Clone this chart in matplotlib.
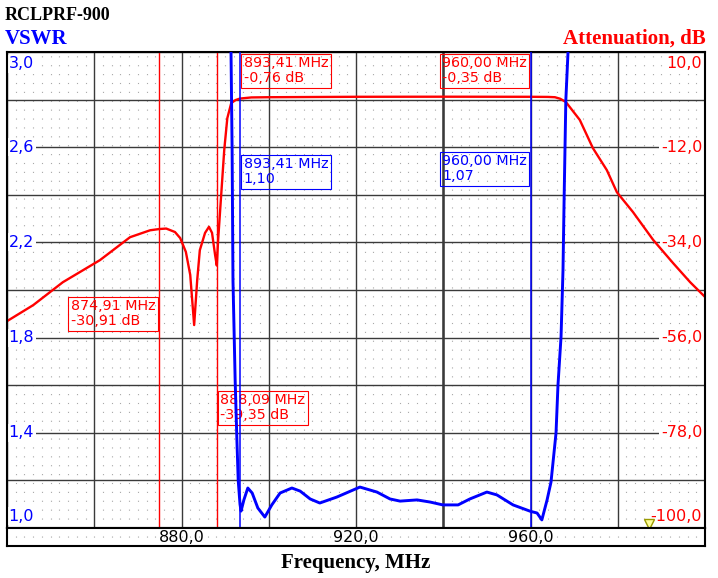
import numpy as np
import matplotlib.pyplot as plt
from matplotlib import transforms

# attenuation curve (right axis, dB)
att_freq = [840.0, 846.0, 852.8, 861.3, 868.2, 872.8, 874.91, 876.5, 878.5, 879.7,
            881.0, 882.0, 882.9, 883.6, 884.2, 885.4, 886.3, 887.0, 887.7, 888.09,
            888.4, 889.1, 889.8, 890.5, 891.4, 892.4, 893.41, 896.0, 900.0, 920.0,
            940.0, 960.0, 964.0, 965.6, 966.8, 968.1, 971.3, 974.3, 977.5, 979.8,
            983.5, 988.1, 992.7, 996.6, 1000.0]
att_db = [-52.2, -48.5, -43.2, -38.1, -32.8, -31.2, -30.91, -30.8, -31.6, -33.0,
          -36.2, -41.5, -53.1, -42.7, -35.8, -31.8, -30.4, -31.8, -36.9, -39.35,
          -33.4, -23.0, -12.6, -5.3, -1.8, -1.1, -0.76, -0.5, -0.45, -0.35,
          -0.33, -0.35, -0.38, -0.45, -0.8, -1.55, -5.7, -12.2, -17.3, -22.4,
          -27.0, -33.4, -38.8, -43.2, -46.6]

# VSWR curve (left axis)
vswr_freq = [890.8, 891.35, 891.6, 891.8, 892.3, 892.7, 893.0, 893.41, 893.65, 894.3,
             895.2, 896.2, 897.5, 899.1, 900.7, 902.6, 905.3, 907.2, 909.5, 911.7,
             915.6, 920.9, 924.8, 927.8, 930.1, 934.0, 937.0, 939.9, 943.4, 946.1,
             950.0, 952.3, 956.0, 960.0, 961.5, 962.6, 963.8, 964.7, 965.85, 966.3,
             967.0, 967.45, 967.7, 968.1, 968.6, 969.2]
vswr_val = [3.4, 3.0, 2.59, 2.04, 1.62, 1.37, 1.20, 1.10, 1.071, 1.118,
            1.168, 1.147, 1.084, 1.046, 1.097, 1.147, 1.168, 1.155, 1.122, 1.105,
            1.130, 1.172, 1.151, 1.122, 1.113, 1.118, 1.109, 1.097, 1.097, 1.122,
            1.151, 1.139, 1.097, 1.07, 1.063, 1.034, 1.118, 1.193, 1.399, 1.601,
            1.803, 2.084, 2.378, 2.798, 3.0, 3.4]

vswr_ticks = [3.0, 2.6, 2.2, 1.8, 1.4, 1.0]
att_ticks = [10.0, -12.0, -34.0, -56.0, -78.0, -100.0]
freq_ticks = [880.0, 920.0, 960.0]

# markers
red_mk_freq = [874.91, 888.09, 893.41, 960.00]
red_mk_db = [-30.91, -39.35, -0.76, -0.35]
blue_mk_freq = [893.41, 960.00]
blue_mk_vswr = [1.10, 1.07]
center_line = 940.0
ref_marker = (987.2, -99.0)

# box placement: which side of the marker line, top in axes fraction
red_box_side = ["left", "right", "right", "left"]
red_box_top = [0.4895, 0.292, 1.0, 1.0]
blue_box_side = ["right", "left"]
blue_box_top = [0.788, 0.794]

RED = "#ff0000"
BLUE = "#0000ff"
GRID = "#3a3a3a"
DOTS = "#a8a8a8"

W, H = 718, 578
L, R, T, B = 7, 705, 52, 528


def comma(v, n):
    return f"{v:.{n}f}".replace(".", ",")


def marker_box(ax, f, text, color, side, top):
    tr = transforms.blended_transform_factory(ax.transData, ax.transAxes)
    dx = 2.6 if side == "right" else -2.6
    ax.annotate(text, xy=(f, top), xycoords=tr, xytext=(dx, -3.0),
                textcoords="offset points", ha="left" if side == "right" else "right",
                va="top", multialignment="left", color=color, fontsize=10.3,
                linespacing=1.1, zorder=5,
                bbox=dict(boxstyle="square,pad=0.18", fc="none", ec=color, lw=0.8))


def dotted_background(ax):
    ax.set_xticks(np.arange(840, 1001, 2), minor=True)
    ax.grid(True, which="minor", axis="x", color=DOTS, linewidth=0.8,
            linestyle=(0, (1, 7)))


fig = plt.figure(figsize=(W / 100, H / 100), dpi=100)
rect = [L / W, 1 - B / H, (R - L) / W, (B - T) / H]

ax_att = fig.add_axes(rect)
ax_v = ax_att.twinx()

ax_att.set_xlim(840, 1000)
ax_att.set_ylim(-100, 10)
ax_v.set_ylim(1.0, 3.0)

# grid
ax_att.set_axisbelow(True)
ax_att.set_xticks(np.arange(840, 1001, 20))
ax_att.set_yticks(np.arange(-100, 10.1, 11))
ax_att.grid(True, which="major", color=GRID, linewidth=1.0)
dotted_background(ax_att)
ax_att.axvline(center_line, color=GRID, lw=1.8, zorder=0.6)

for a in (ax_att, ax_v):
    a.tick_params(which="both", left=False, right=False, bottom=False, top=False,
                  labelleft=False, labelright=False, labelbottom=False)
for s in ax_att.spines.values():
    s.set_linewidth(1.5)
    s.set_color("black")
for s in ax_v.spines.values():
    s.set_visible(False)

# axis value labels inside the plot
tr_left = transforms.blended_transform_factory(ax_att.transAxes, ax_v.transData)
tr_right = transforms.blended_transform_factory(ax_att.transAxes, ax_att.transData)
for i, v in enumerate(vswr_ticks):
    va, dy = "center", 0
    if i == 0:
        va, dy = "top", -3
    elif i == len(vswr_ticks) - 1:
        va, dy = "bottom", 3
    ax_att.annotate(comma(v, 1), xy=(0.0, v), xycoords=tr_left, xytext=(1.2, dy),
                    textcoords="offset points", ha="left", va=va, color=BLUE,
                    fontsize=11.5, zorder=1.5,
                    bbox=dict(boxstyle="square,pad=0.1", fc="white", ec="none"))
for i, v in enumerate(att_ticks):
    va, dy = "center", 0
    if i == 0:
        va, dy = "top", -3
    elif i == len(att_ticks) - 1:
        va, dy = "bottom", 3
    ax_att.annotate(comma(v, 1), xy=(1.0, v), xycoords=tr_right, xytext=(-2.0, dy),
                    textcoords="offset points", ha="right", va=va, color=RED,
                    fontsize=11.5, zorder=1.5,
                    bbox=dict(boxstyle="square,pad=0.1", fc="white", ec="none"))

# marker lines (blue ones cover the red lines at the same frequency)
for f in red_mk_freq:
    if f not in blue_mk_freq:
        ax_att.axvline(f, color=RED, lw=1.0, zorder=1.8)
for f in blue_mk_freq:
    ax_v.axvline(f, color=BLUE, lw=1.1, zorder=1.8)

# curves
ax_att.plot(att_freq, att_db, color=RED, lw=1.7, zorder=2)
ax_v.plot(vswr_freq, vswr_val, color=BLUE, lw=2.1, zorder=3)

ax_att.plot(*ref_marker, marker="v", ms=6.5, mfc="#ffff99", mec="#9a9a00",
            mew=1.0, clip_on=False, zorder=4)

# marker boxes
for f, d, side, top in zip(red_mk_freq, red_mk_db, red_box_side, red_box_top):
    marker_box(ax_att, f, f"{comma(f, 2)} MHz\n{comma(d, 2)} dB", RED, side, top)
for f, v, side, top in zip(blue_mk_freq, blue_mk_vswr, blue_box_side, blue_box_top):
    marker_box(ax_v, f, f"{comma(f, 2)} MHz\n{comma(v, 2)}", BLUE, side, top)

# frequency label strip under the plot
ax_x = fig.add_axes([L / W, 1 - 546 / H, (R - L) / W, 18 / H])
ax_x.set_xlim(840, 1000)
ax_x.set_ylim(0, 1)
ax_x.set_yticks([])
ax_x.set_xticks([])
dotted_background(ax_x)
ax_x.tick_params(which="both", bottom=False, labelbottom=False)
for s in ax_x.spines.values():
    s.set_linewidth(1.5)
for f in freq_ticks:
    ax_x.text(f, 0.5, comma(f, 1), ha="center", va="center", fontsize=11.5,
              color="black")

# titles
serif = "Liberation Serif"
fig.text(5 / W, 1 - 20 / H, "RCLPRF-900", fontsize=13, fontweight="bold",
         family=serif, color="black", va="baseline")
fig.text(5 / W, 1 - 44 / H, "VSWR", fontsize=15, fontweight="bold",
         family=serif, color=BLUE, va="baseline")
fig.text(706 / W, 1 - 44 / H, "Attenuation, dB", fontsize=15, fontweight="bold",
         family=serif, color=RED, va="baseline", ha="right")
fig.text(356 / W, 1 - 568 / H, "Frequency, MHz", fontsize=15, fontweight="bold",
         family=serif, color="black", va="baseline", ha="center")

fig.savefig("out.png", dpi=100, facecolor="white")
